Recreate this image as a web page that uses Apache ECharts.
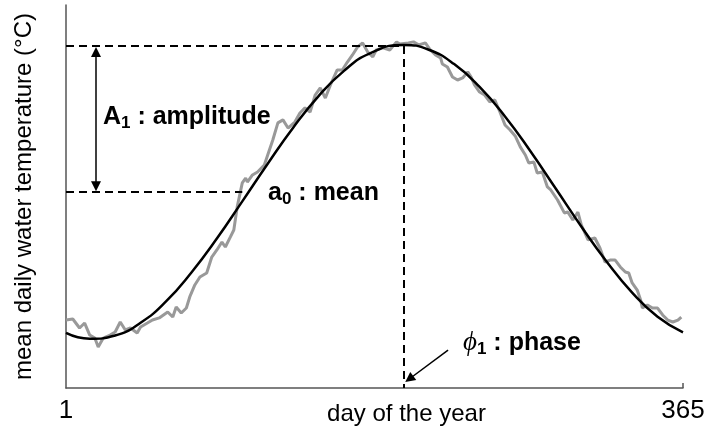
<!DOCTYPE html>
<html>
<head>
<meta charset="utf-8">
<script src="https://cdn.jsdelivr.net/npm/echarts@6/dist/echarts.min.js"></script>
<style>
  html, body { margin: 0; padding: 0; background: #fff; }
  #chart { width: 706px; height: 433px; }
</style>
</head>
<body>
<div id="chart"></div>
<script>
// observed daily temperature (grey, noisy)
const obsDays = [1, 5, 9, 12, 15, 18, 20, 23, 27, 30, 33, 36, 39, 43, 45, 49, 52, 56, 61, 64,
  66, 69, 72, 74, 77, 80, 84, 87, 90, 93, 95, 98, 100, 102, 105, 107, 108, 111, 114, 115,
  118, 120, 123, 126, 129, 132, 136, 139, 142, 145, 148, 151, 154, 157, 161, 164, 167, 170, 173, 176,
  179, 182, 184, 188, 192, 196, 198, 203, 206, 209, 213, 216, 219, 222, 223, 226, 229, 232, 235, 238,
  240, 242, 245, 248, 251, 254, 257, 260, 263, 266, 269, 272, 274, 277, 279, 282, 285, 287, 288, 291,
  295, 297, 300, 303, 305, 309, 313, 316, 319, 322, 325, 328, 331, 333, 335, 338, 340, 341, 344, 347,
  350, 353, 356, 359, 362, 364];
const obsTemp = [4.53, 4.6, 4.0, 4.33, 3.53, 3.33, 2.73, 3.33, 3.53, 3.73, 4.4, 3.87, 4.0, 3.67, 4.07, 4.33, 4.53, 4.67, 5.07, 4.73,
  5.4, 5.0, 5.33, 6.07, 6.87, 7.4, 7.67, 8.73, 9.2, 9.73, 9.4, 10.07, 10.53, 12.07, 13.67, 14.0, 13.73, 14.2, 14.4, 14.53,
  14.87, 15.53, 16.53, 17.67, 17.87, 17.33, 17.73, 18.33, 18.67, 18.4, 19.53, 20.0, 19.33, 20.2, 21.2, 21.2, 21.73, 22.2, 22.73, 23.0,
  22.4, 22.07, 22.53, 22.67, 22.53, 23.07, 22.93, 23.0, 23.07, 22.87, 23.0, 22.53, 22.2, 22.0, 21.6, 21.4, 20.73, 20.53, 20.67, 21.07,
  20.73, 20.2, 19.73, 19.53, 19.07, 19.2, 18.4, 17.53, 17.2, 16.8, 16.07, 15.53, 15.0, 15.07, 14.33, 14.4, 13.4, 13.2, 13.07, 12.53,
  11.67, 11.73, 11.2, 11.73, 10.87, 9.87, 10.0, 9.33, 8.4, 8.53, 8.53, 8.07, 7.73, 7.67, 7.0, 6.53, 5.87, 5.33, 5.53, 5.33,
  5.33, 4.87, 4.53, 4.4, 4.53, 4.73];

// fitted annual cycle (black)
const fitDays = [1, 15, 30, 45, 60, 75, 90, 105, 120, 135, 150, 165, 180, 200, 215, 230, 245, 260, 275, 290, 305, 320, 335, 350, 365];
const fitTemp = [3.67, 3.28, 3.5, 4.35, 5.77, 7.7, 9.96, 12.44, 14.95, 17.35, 19.46, 21.14, 22.29, 22.87, 22.55, 21.59, 20.07, 18.1, 15.78, 13.28, 10.77, 8.42, 6.36, 4.75, 3.71];

const meanTemp = 13.07;
const peakTemp = 22.8;
const peakDay = 200;
const xTicks = [1, 365];

const chart = echarts.init(document.getElementById('chart'));

const dashed = { color: '#000', width: 2, type: [8, 5] };
const solid = { color: '#000', width: 1.5, type: 'solid' };

chart.setOption({
  animation: false,
  grid: { left: 66, right: 23, top: 5, bottom: 45, containLabel: false, outerBoundsMode: 'none' },
  xAxis: {
    type: 'value',
    min: 1,
    max: 365,
    name: 'day of the year',
    nameLocation: 'middle',
    nameGap: 14,
    nameMoveOverlap: false,
    nameTextStyle: { fontFamily: 'Liberation Sans', fontSize: 24, color: '#000', padding: [0, 0, 0, 64] },
    axisLine: { lineStyle: { color: '#555', width: 1.5 } },
    axisTick: { show: true, inside: true, length: 5, customValues: [365], lineStyle: { color: '#555', width: 1.5 } },
    axisLabel: { customValues: xTicks, fontFamily: 'Liberation Sans', fontSize: 26, color: '#000', margin: 10 },
    splitLine: { show: false }
  },
  yAxis: {
    type: 'value',
    min: 0,
    max: 25.53,
    name: 'mean daily water temperature (°C)',
    nameLocation: 'middle',
    nameGap: 30,
    nameMoveOverlap: false,
    nameTextStyle: { fontFamily: 'Liberation Sans', fontSize: 24, color: '#000' },
    axisLine: { show: true, lineStyle: { color: '#555', width: 1.5 } },
    axisTick: { show: false },
    axisLabel: { show: false },
    splitLine: { show: false }
  },
  series: [
    {
      name: 'observed',
      type: 'line',
      data: obsDays.map((d, i) => [d, obsTemp[i]]),
      showSymbol: false,
      lineStyle: { color: '#999', width: 3 },
      z: 2
    },
    {
      name: 'fit',
      type: 'line',
      data: fitDays.map((d, i) => [d, fitTemp[i]]),
      smooth: true,
      showSymbol: false,
      lineStyle: { color: '#000', width: 2.5 },
      z: 3,
      markLine: {
        silent: true,
        symbol: 'none',
        label: { show: false },
        data: [
          [{ coord: [1, peakTemp], lineStyle: dashed }, { coord: [peakDay, peakTemp] }],
          [{ coord: [peakDay, peakTemp], lineStyle: dashed }, { coord: [peakDay, 0] }],
          [{ coord: [1, meanTemp], lineStyle: dashed }, { coord: [105, meanTemp] }],
          [{ coord: [18.7, 22.4], lineStyle: solid, symbol: 'triangle', symbolSize: 10 },
           { coord: [18.7, 13.45], symbol: 'triangle', symbolSize: 10 }],
          [{ coord: [226.4, 2.53], lineStyle: solid, symbol: 'none' },
           { coord: [203.5, 0.6], symbol: 'triangle', symbolSize: 10 }]
        ]
      },
      markPoint: {
        silent: true,
        symbolSize: 0,
        label: {
          show: true,
          position: 'right',
          distance: 0,
          rich: {
            b: { fontFamily: 'Liberation Sans', fontSize: 25, fontWeight: 'bold', color: '#000' },
            i: { fontFamily: 'Liberation Serif', fontSize: 27, fontStyle: 'italic', color: '#000' },
            s: { fontFamily: 'Liberation Sans', fontSize: 17, fontWeight: 'bold', color: '#000', verticalAlign: 'bottom', padding: [12, 0, 0, 0] }
          }
        },
        data: [
          { coord: [22.8, 18.07], label: { formatter: '{b|A}{s|1}{b| : amplitude}' } },
          { coord: [120.2, 13.0], label: { formatter: '{b|a}{s|0}{b| : mean}' } },
          { coord: [235.2, 3.0], label: { formatter: '{i|ϕ}{s|1}{b| : phase}' } }
        ]
      }
    }
  ]
});
</script>
</body>
</html>
